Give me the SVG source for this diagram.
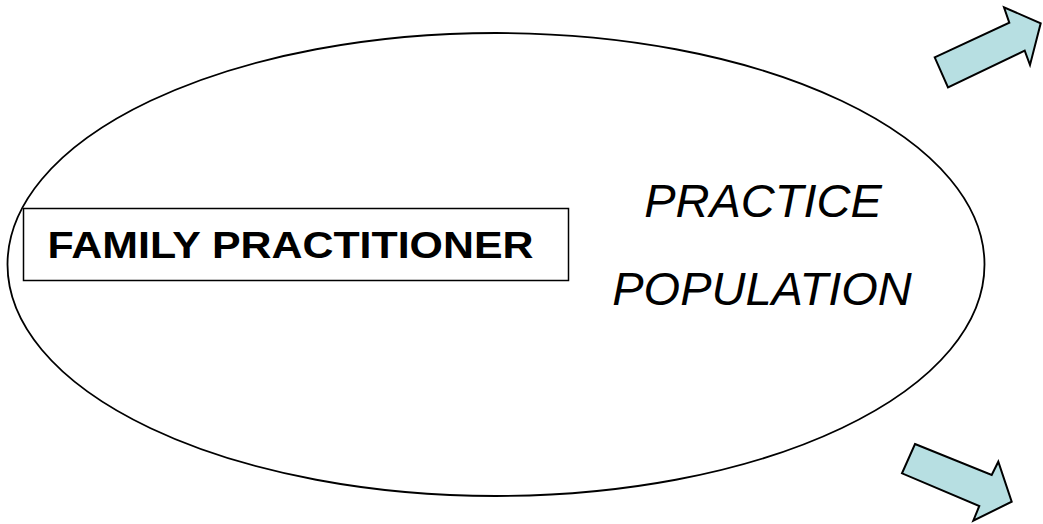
<svg xmlns="http://www.w3.org/2000/svg" width="1043" height="524" viewBox="0 0 1043 524">
<style>
.arrow{fill:#b7dfe2;stroke:#000;stroke-width:2;stroke-linejoin:miter}
.outline{fill:none;stroke:#000;stroke-width:1.8}
.lbl{font-family:"Liberation Sans",Arial,sans-serif;fill:#000}
</style>
<rect width="1043" height="524" fill="#fff"/>
<g id="practice-population">
<ellipse class="outline" cx="496" cy="264.5" rx="488.5" ry="231.5"/>
<text class="lbl" x="763" y="216.5" font-size="47" font-style="italic" text-anchor="middle">PRACTICE</text>
<text class="lbl" x="762" y="305" font-size="47" font-style="italic" text-anchor="middle">POPULATION</text>
</g>
<g id="family-practitioner">
<rect x="23.5" y="208.5" width="545" height="72" fill="#fff" stroke="#000" stroke-width="1.5"/>
<text class="lbl" x="47.5" y="258.3" font-size="37" font-weight="bold" textLength="486" lengthAdjust="spacingAndGlyphs">FAMILY PRACTITIONER</text>
</g>
<g id="connectors">
<polygon class="arrow" points="934.7,57.3 1009.3,22.7 1004,7.3 1040.7,23.3 1030,65 1024.7,50.7 948,87.3"/>
<polygon class="arrow" points="915,444 991.7,475 998.3,461.7 1011.7,501.7 973.3,520.7 979.3,506 902,473.3"/>
</g>
</svg>
